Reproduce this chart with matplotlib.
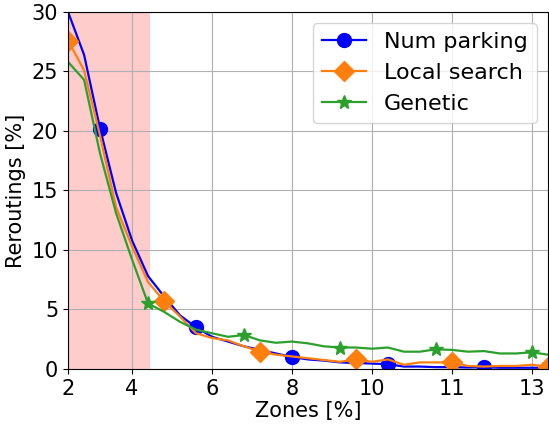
import matplotlib
matplotlib.use('Agg')
import matplotlib.pyplot as plt
import numpy as np

# x is the sample index; tick labels give the zone percentage
tick_pos = [0, 4, 9, 14, 19, 24, 29]
tick_labels = ['2', '4', '6', '8', '10', '11', '13']

num_parking = [30.0, 26.4, 20.2, 14.8, 10.8, 7.8, 6.1, 4.5, 3.5, 2.7, 2.3, 1.9, 1.6, 1.3, 1.0,
               0.8, 0.7, 0.55, 0.5, 0.45, 0.4, 0.2, 0.2, 0.15, 0.15, 0.12, 0.15, 0.1, 0.1, 0.1, 0.1]
local_search = [27.6, 25.1, 19.6, 13.6, 10.3, 7.3, 5.7, 4.4, 3.0, 2.6, 2.4, 1.9, 1.45, 1.2, 1.05,
                0.9, 0.75, 0.6, 0.8, 0.6, 0.8, 0.35, 0.55, 0.55, 0.55, 0.25, 0.2, 0.25, 0.25, 0.35, 0.2]
genetic = [25.8, 24.3, 18.1, 13.1, 9.2, 5.5, 4.8, 3.96, 3.3, 3.0, 2.7, 2.85, 2.4, 2.2, 2.3,
           2.15, 1.9, 1.8, 1.8, 1.7, 1.8, 1.45, 1.45, 1.65, 1.6, 1.45, 1.5, 1.3, 1.3, 1.4, 1.2]

x = np.arange(len(num_parking))

fig, ax = plt.subplots(figsize=(5.49, 4.28), dpi=100)
fig.subplots_adjust(left=0.124, right=0.998, top=0.972, bottom=0.138)

# highlighted low-zone range
ax.axvspan(0, 5.1, color='red', alpha=0.2, lw=0)

ax.plot(x, num_parking, color='blue', lw=1.6, marker='o', markersize=10,
        markevery=(2, 6), label='Num parking')
ax.plot(x, local_search, color='tab:orange', lw=1.6, marker='D', markersize=10,
        markevery=(0, 6), label='Local search')
ax.plot(x, genetic, color='tab:green', lw=1.6, marker='*', markersize=10,
        markevery=(5, 6), label='Genetic')

ax.set_xlim(0, 30)
ax.set_ylim(0, 30)
ax.set_xticks(tick_pos)
ax.set_xticklabels(tick_labels)
ax.set_yticks([0, 5, 10, 15, 20, 25, 30])
ax.tick_params(labelsize=15)
ax.set_xlabel('Zones [%]', fontsize=15, labelpad=2)
ax.set_ylabel('Reroutings [%]', fontsize=15)
ax.grid(True, color='#b0b0b0', lw=0.8)
ax.legend(loc='upper right', fontsize=16)

plt.savefig('out.png', dpi=100)
